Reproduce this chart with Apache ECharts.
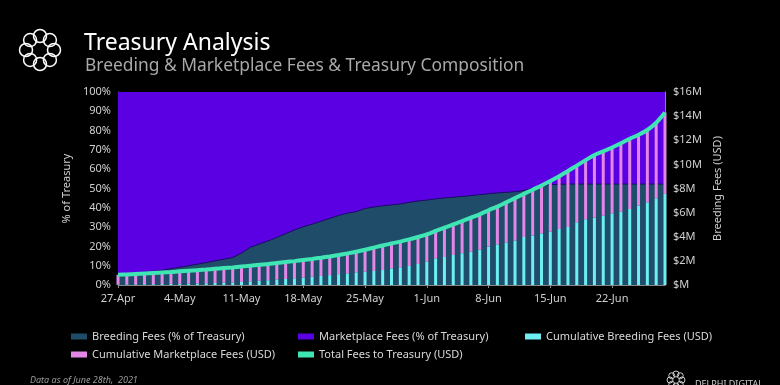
<!DOCTYPE html>
<html><head><meta charset="utf-8">
<script src="https://cdn.jsdelivr.net/npm/echarts@6/dist/echarts.min.js"></script>
<style>html,body{margin:0;padding:0;background:#000;}#c{width:780px;height:385px;}</style>
</head><body><div id="c"></div>
<script>
const dates = ['27-Apr','28-Apr','29-Apr','30-Apr','1-May','2-May','3-May','4-May','5-May','6-May','7-May','8-May','9-May','10-May','11-May','12-May','13-May','14-May','15-May','16-May','17-May','18-May','19-May','20-May','21-May','22-May','23-May','24-May','25-May','26-May','27-May','28-May','29-May','30-May','31-May','1-Jun','2-Jun','3-Jun','4-Jun','5-Jun','6-Jun','7-Jun','8-Jun','9-Jun','10-Jun','11-Jun','12-Jun','13-Jun','14-Jun','15-Jun','16-Jun','17-Jun','18-Jun','19-Jun','20-Jun','21-Jun','22-Jun','23-Jun','24-Jun','25-Jun','26-Jun','27-Jun','28-Jun'];
const breedingPct = [5.5,5.8,6.2,6.7,7.1,7.7,8.4,9.2,10.0,10.8,11.6,12.5,13.4,14.2,16.5,19.5,21.2,22.8,24.6,26.6,28.5,30.2,31.5,33.0,34.5,36.0,37.2,38.0,39.6,40.4,41.0,41.5,42.0,42.8,43.5,44.0,44.6,45.1,45.5,45.9,46.3,46.8,47.3,47.7,48.0,48.3,49.0,50.3,51.5,52.0,52.2,52.3,52.3,52.3,52.3,52.3,52.3,52.3,52.3,52.3,52.3,52.3,52.3];
const marketPct = [94.5,94.2,93.8,93.3,92.9,92.3,91.6,90.8,90.0,89.2,88.4,87.5,86.6,85.8,83.5,80.5,78.8,77.2,75.4,73.4,71.5,69.8,68.5,67.0,65.5,64.0,62.8,62.0,60.4,59.6,59.0,58.5,58.0,57.2,56.5,56.0,55.4,54.9,54.5,54.1,53.7,53.2,52.7,52.3,52.0,51.7,51.0,49.7,48.5,48.0,47.8,47.7,47.7,47.7,47.7,47.7,47.7,47.7,47.7,47.7,47.7,47.7,47.7];
const cumBreeding = [0.05,0.05,0.06,0.06,0.07,0.08,0.09,0.10,0.12,0.13,0.15,0.17,0.19,0.21,0.25,0.31,0.35,0.40,0.45,0.50,0.56,0.62,0.68,0.75,0.82,0.90,0.97,1.05,1.10,1.16,1.24,1.38,1.47,1.58,1.74,1.93,2.21,2.32,2.49,2.63,2.76,2.93,3.18,3.37,3.51,3.68,3.98,4.09,4.28,4.42,4.64,4.81,5.20,5.45,5.58,5.75,5.94,6.08,6.30,6.58,6.85,7.19,7.55];
const cumMarket = [0.80,0.83,0.86,0.90,0.93,0.96,0.99,1.03,1.06,1.10,1.13,1.17,1.21,1.25,1.28,1.29,1.32,1.34,1.37,1.40,1.42,1.45,1.48,1.51,1.55,1.59,1.65,1.71,1.82,1.94,2.04,2.06,2.13,2.20,2.24,2.27,2.27,2.44,2.53,2.67,2.82,2.93,3.02,3.13,3.34,3.52,3.57,3.81,3.97,4.20,4.38,4.64,4.70,4.90,5.20,5.33,5.46,5.67,5.82,5.87,6.00,6.26,6.75];
const totalFees = [0.85,0.88,0.92,0.96,1.00,1.04,1.08,1.13,1.18,1.23,1.28,1.34,1.40,1.46,1.53,1.60,1.67,1.74,1.82,1.90,1.98,2.07,2.16,2.26,2.37,2.49,2.62,2.76,2.92,3.10,3.28,3.44,3.60,3.78,3.98,4.20,4.48,4.76,5.02,5.30,5.58,5.86,6.20,6.50,6.85,7.20,7.55,7.90,8.25,8.62,9.02,9.45,9.90,10.35,10.78,11.08,11.40,11.75,12.12,12.45,12.85,13.45,14.30];
const pctTicks = [0,100,10];
const usdTicks = [0,16,2];

const chart = echarts.init(document.getElementById('c'));
const F = '"Noto Sans", "Open Sans", sans-serif';
const legendText = {color:'#d8d8d8', fontSize:11, fontFamily:F};
const ringCircles = [];
for (let k=0;k<8;k++){const a=k*Math.PI/4; ringCircles.push({type:'circle',shape:{cx:40+14*Math.cos(a),cy:50+14*Math.sin(a),r:6.5},style:{fill:'none',stroke:'#fff',lineWidth:1.5}});}
const ring2 = [];
for (let k=0;k<8;k++){const a=k*Math.PI/4; ring2.push({type:'circle',shape:{cx:676+6*Math.cos(a),cy:380+6*Math.sin(a),r:3},style:{fill:'none',stroke:'#ccc',lineWidth:1}});}
chart.setOption({
  backgroundColor:'#000',
  animation:false,
  title:[
    {text:'Treasury Analysis',left:79,top:27,textStyle:{color:'#fff',fontSize:23,fontWeight:'normal',fontFamily:F}},
    {text:'Breeding & Marketplace Fees & Treasury Composition',left:80,top:53,textStyle:{color:'#a8a8a8',fontSize:17.4,fontWeight:'normal',fontFamily:F}},
    {text:'Data as of June 28th,  2021',left:25,top:371,textStyle:{color:'#9a9a9a',fontSize:9,fontStyle:'italic',fontWeight:'normal',fontFamily:F}},
    {text:'DELPHI DIGITAL',left:690,top:375,textStyle:{color:'#ccc',fontSize:9,fontWeight:'normal',fontFamily:F}}
  ],
  graphic: ringCircles.concat(ring2),
  grid:{left:118,right:115,top:92,bottom:100},
  legend:[
    {orient:'vertical',left:66,top:326,itemGap:7,itemWidth:16,itemHeight:6,icon:'rect',textStyle:legendText,data:['Breeding Fees (% of Treasury)','Cumulative Marketplace Fees (USD)']},
    {orient:'vertical',left:293,top:326,itemGap:7,itemWidth:16,itemHeight:6,icon:'rect',textStyle:legendText,data:['Marketplace Fees (% of Treasury)','Total Fees to Treasury (USD)']},
    {orient:'vertical',left:520,top:326,itemGap:7,itemWidth:16,itemHeight:6,icon:'rect',textStyle:legendText,data:['Cumulative Breeding Fees (USD)']}
  ],
  xAxis:{type:'category',data:dates,boundaryGap:false,
    axisLine:{lineStyle:{color:'#888'}},axisTick:{show:true,interval:6,length:3,lineStyle:{color:'#888'}},
    axisLabel:{interval:6,color:'#d0d0d0',fontSize:11,fontFamily:F,margin:8}},
  yAxis:[
    {type:'value',min:pctTicks[0],max:pctTicks[1],interval:pctTicks[2],name:'% of Treasury',nameLocation:'middle',nameGap:38,nameRotate:90,
     nameTextStyle:{color:'#d0d0d0',fontSize:11,fontFamily:F},
     axisLabel:{formatter:'{value}%',color:'#d0d0d0',fontSize:11,fontFamily:F,margin:7},
     axisLine:{show:true,lineStyle:{color:'#888'}},splitLine:{show:false}},
    {type:'value',min:usdTicks[0],max:usdTicks[1],interval:usdTicks[2],position:'right',name:'Breeding Fees (USD)',nameLocation:'middle',nameGap:37,nameRotate:90,
     nameTextStyle:{color:'#d0d0d0',fontSize:11,fontFamily:F},
     axisLabel:{formatter:v=>'$'+(v===0?'':v)+'M',color:'#d0d0d0',fontSize:11,fontFamily:F,margin:8},
     axisLine:{show:true,lineStyle:{color:'#888'}},splitLine:{show:false}}
  ],
  series:[
    {name:'Breeding Fees (% of Treasury)',type:'line',stack:'pct',yAxisIndex:0,data:breedingPct,symbol:'none',z:1,
     itemStyle:{color:'#1f4d69'},lineStyle:{color:'#1a0f6a',width:1},areaStyle:{color:'#1f4d69',opacity:1}},
    {name:'Marketplace Fees (% of Treasury)',type:'line',stack:'pct',yAxisIndex:0,data:marketPct,symbol:'none',z:1,
     itemStyle:{color:'#5a00e2'},lineStyle:{width:0},areaStyle:{color:'#5a00e2',opacity:1}},
    {name:'Cumulative Breeding Fees (USD)',type:'bar',stack:'usd',yAxisIndex:1,data:cumBreeding,barWidth:3,clip:false,z:5,
     itemStyle:{color:'#6eeef2'}},
    {name:'Cumulative Marketplace Fees (USD)',type:'bar',stack:'usd',yAxisIndex:1,data:cumMarket,barWidth:3,clip:false,z:5,
     itemStyle:{color:'#e386e8'}},
    {name:'Total Fees to Treasury (USD)',type:'line',yAxisIndex:1,data:totalFees,symbol:'none',smooth:0.3,z:8,
     itemStyle:{color:'#3fe6b4'},lineStyle:{color:'#3fe6b4',width:4}}
  ]
});
</script></body></html>
